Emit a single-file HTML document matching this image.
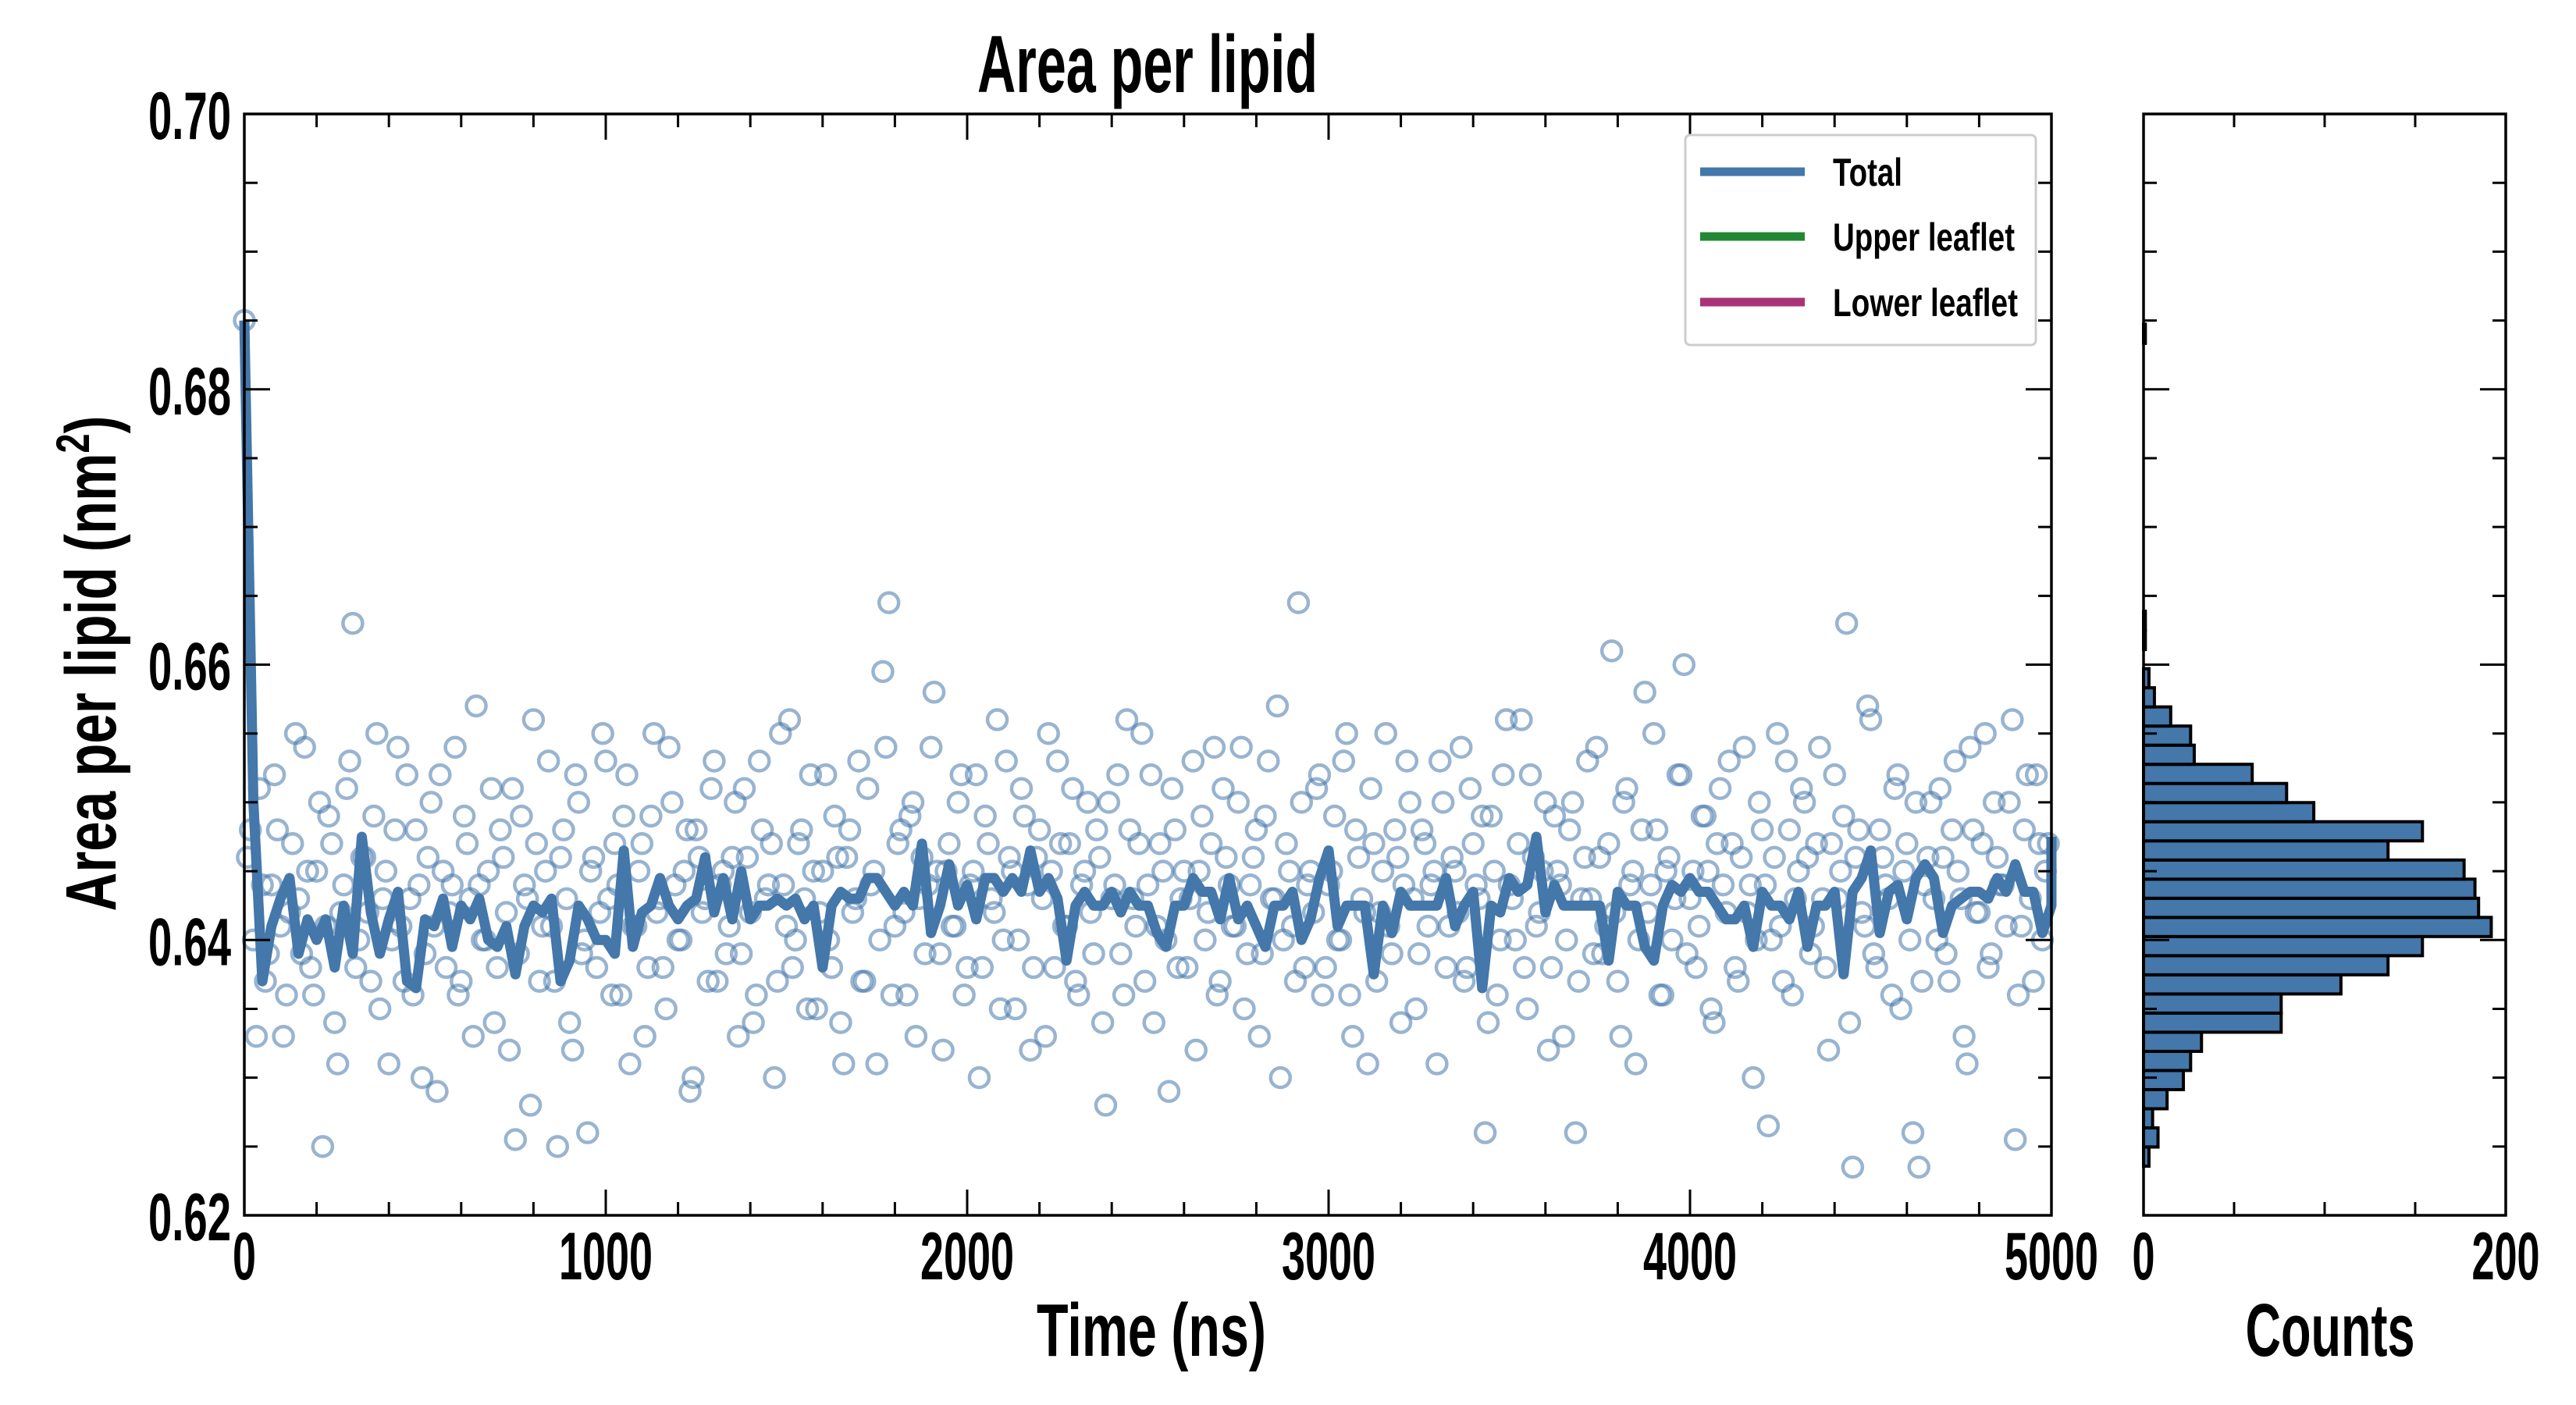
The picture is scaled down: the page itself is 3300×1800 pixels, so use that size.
<!DOCTYPE html>
<html><head><meta charset="utf-8"><style>
html,body{margin:0;padding:0;background:#fff;}
svg{display:block;}
text{font-family:"Liberation Sans Narrow","Liberation Sans",sans-serif;font-weight:bold;fill:#000;}
</style></head>
<body>
<svg id="chart" width="3300" height="1800" viewBox="0 0 3300 1800" xmlns="http://www.w3.org/2000/svg">
<rect x="0" y="0" width="3300" height="1800" fill="#fff"/>
<g id="main-plot"></g>
<g id="hist-plot"></g>
<text x="1470" y="118" font-size="104" text-anchor="middle" textLength="436" lengthAdjust="spacingAndGlyphs">Area per lipid</text>
<text x="1475" y="1737" font-size="96" text-anchor="middle" textLength="294" lengthAdjust="spacingAndGlyphs">Time (ns)</text>
<text x="2985" y="1737" font-size="96" text-anchor="middle" textLength="217" lengthAdjust="spacingAndGlyphs">Counts</text>
<text transform="translate(148,850) rotate(-90)" x="0" y="0" font-size="92" text-anchor="middle" textLength="635" lengthAdjust="spacingAndGlyphs">Area per lipid (nm<tspan font-size="60" dy="-34">2</tspan><tspan dy="34">)</tspan></text>
<g id="legend">
<rect x="2159" y="173" width="449" height="269" rx="6" fill="#fff" stroke="#ccc" stroke-width="3"/>
<g><line x1="2178" y1="220" x2="2312" y2="220" stroke="#4477aa" stroke-width="11"/><text x="2348" y="238" font-size="50" textLength="89" lengthAdjust="spacingAndGlyphs">Total</text></g>
<g><line x1="2178" y1="303" x2="2312" y2="303" stroke="#228833" stroke-width="11"/><text x="2348" y="321" font-size="50" textLength="233" lengthAdjust="spacingAndGlyphs">Upper leaflet</text></g>
<g><line x1="2178" y1="387" x2="2312" y2="387" stroke="#aa3377" stroke-width="11"/><text x="2348" y="405" font-size="50" textLength="237" lengthAdjust="spacingAndGlyphs">Lower leaflet</text></g>
</g>
</svg>
<script>
const xTickLabels = ["0","1000","2000","3000","4000","5000"];
const xTickValues = [0,1000,2000,3000,4000,5000];
const yTickLabels = ["0.62","0.64","0.66","0.68","0.70"];
const yTickValues = [0.62,0.64,0.66,0.68,0.70];
const histTickLabels = ["0","200"];
const histTickValues = [0,200];
const scatterDt = 5000/300;
const scatterValues = [
0.685,0.648,0.633,0.644,0.639,0.652,0.641,0.636,0.647,0.643,0.654,0.638,0.645,0.625,0.649,0.634,0.642,0.651,0.663,0.640,
0.646,0.637,0.655,0.643,0.631,0.648,0.641,0.652,0.636,0.644,0.639,0.650,0.629,0.645,0.642,0.654,0.637,0.647,0.633,0.644,
0.640,0.651,0.638,0.646,0.632,0.6255,0.649,0.643,0.656,0.637,0.645,0.641,0.625,0.648,0.634,0.652,0.639,0.626,0.646,0.642,
0.653,0.636,0.644,0.649,0.631,0.641,0.647,0.638,0.655,0.643,0.635,0.650,0.640,0.645,0.629,0.648,0.642,0.637,0.653,0.644,
0.639,0.646,0.633,0.651,0.642,0.636,0.648,0.644,0.630,0.655,0.641,0.638,0.647,0.643,0.652,0.635,0.645,0.640,0.649,0.634,
0.646,0.642,0.653,0.637,0.644,0.631,0.6595,0.6645,0.641,0.648,0.636,0.650,0.643,0.639,0.654,0.645,0.632,0.647,0.641,0.652,
0.638,0.645,0.630,0.649,0.643,0.656,0.640,0.646,0.635,0.651,0.644,0.638,0.648,0.633,0.645,0.653,0.641,0.647,0.637,0.644,
0.650,0.639,0.646,0.628,0.643,0.652,0.636,0.648,0.641,0.655,0.644,0.634,0.647,0.640,0.651,0.638,0.645,0.643,0.632,0.649,
0.642,0.654,0.637,0.646,0.641,0.650,0.635,0.644,0.648,0.639,0.653,0.643,0.630,0.647,0.641,0.6645,0.638,0.645,0.651,0.636,
0.644,0.649,0.640,0.655,0.633,0.646,0.642,0.651,0.637,0.645,0.641,0.648,0.634,0.653,0.643,0.639,0.647,0.644,0.631,0.650,
0.641,0.645,0.654,0.638,0.647,0.643,0.626,0.649,0.636,0.652,0.644,0.640,0.656,0.635,0.646,0.642,0.650,0.638,0.645,0.633,
0.648,0.626,0.643,0.653,0.639,0.646,0.641,0.661,0.637,0.650,0.644,0.631,0.648,0.642,0.655,0.636,0.645,0.640,0.652,0.660,
0.643,0.638,0.649,0.645,0.634,0.651,0.642,0.647,0.637,0.654,0.644,0.640,0.648,0.6265,0.646,0.641,0.653,0.636,0.645,0.650,
0.639,0.647,0.643,0.632,0.652,0.645,0.663,0.6235,0.648,0.641,0.656,0.638,0.646,0.643,0.651,0.635,0.647,0.626,0.6235,0.644,
0.650,0.640,0.646,0.637,0.653,0.643,0.631,0.648,0.642,0.655,0.639,0.646,0.644,0.650,0.6255,0.641,0.652,0.637,0.647,0.645
];
const scatterValuesB = [
0.646,0.640,0.651,0.637,0.644,0.648,0.633,0.642,0.655,0.639,0.645,0.636,0.650,0.641,0.647,0.631,0.644,0.653,0.638,0.646,
0.642,0.649,0.635,0.645,0.640,0.654,0.637,0.643,0.648,0.630,0.646,0.641,0.652,0.638,0.644,0.636,0.649,0.643,0.657,0.640,
0.645,0.634,0.648,0.642,0.651,0.639,0.644,0.628,0.647,0.641,0.653,0.637,0.646,0.643,0.632,0.650,0.640,0.645,0.638,0.655,
0.643,0.647,0.636,0.652,0.641,0.645,0.633,0.649,0.642,0.638,0.654,0.644,0.640,0.648,0.630,0.646,0.643,0.651,0.637,0.645,
0.641,0.650,0.639,0.646,0.634,0.653,0.643,0.647,0.637,0.644,0.656,0.640,0.648,0.635,0.645,0.642,0.652,0.638,0.646,0.631,
0.648,0.643,0.637,0.651,0.645,0.640,0.654,0.636,0.647,0.642,0.649,0.633,0.646,0.644,0.658,0.639,0.645,0.641,0.650,0.636,
0.644,0.652,0.638,0.647,0.642,0.635,0.653,0.645,0.640,0.649,0.632,0.646,0.643,0.655,0.638,0.647,0.641,0.651,0.636,0.645,
0.642,0.648,0.634,0.650,0.644,0.639,0.656,0.643,0.647,0.637,0.652,0.641,0.645,0.629,0.648,0.643,0.638,0.653,0.645,0.640,
0.647,0.636,0.651,0.644,0.641,0.654,0.639,0.646,0.633,0.649,0.643,0.657,0.640,0.645,0.637,0.650,0.644,0.642,0.652,0.638,
0.645,0.640,0.653,0.636,0.648,0.643,0.631,0.647,0.642,0.655,0.639,0.646,0.644,0.650,0.635,0.648,0.641,0.645,0.653,0.638,
0.646,0.642,0.637,0.651,0.644,0.649,0.634,0.645,0.640,0.656,0.643,0.647,0.638,0.652,0.641,0.645,0.632,0.649,0.644,0.640,
0.650,0.637,0.646,0.643,0.654,0.639,0.647,0.642,0.633,0.651,0.645,0.640,0.658,0.644,0.648,0.636,0.646,0.643,0.652,0.639,
0.645,0.641,0.649,0.635,0.647,0.644,0.653,0.638,0.646,0.642,0.630,0.650,0.644,0.640,0.655,0.637,0.648,0.643,0.651,0.646,
0.641,0.654,0.638,0.647,0.643,0.649,0.634,0.646,0.642,0.657,0.639,0.648,0.644,0.636,0.652,0.645,0.640,0.650,0.637,0.646,
0.643,0.651,0.639,0.648,0.645,0.633,0.654,0.642,0.647,0.638,0.650,0.644,0.641,0.656,0.636,0.648,0.643,0.652,0.640,0.647
];
const lineDt = 25;
const lineValues = [
0.685,0.650,0.637,0.641,0.643,0.6445,0.639,0.6415,0.640,0.6415,0.638,0.6425,0.639,0.6475,0.642,0.639,0.6415,0.6435,0.637,0.6365,
0.6415,0.641,0.643,0.6395,0.6425,0.6415,0.643,0.640,0.6395,0.641,0.6375,0.641,0.6425,0.642,0.643,0.637,0.6385,0.6425,0.6415,0.640,
0.640,0.639,0.6465,0.6395,0.642,0.6425,0.6445,0.6425,0.6415,0.6425,0.643,0.646,0.642,0.6445,0.6415,0.645,0.6415,0.6425,0.6425,0.643,
0.6425,0.643,0.6415,0.6425,0.638,0.6425,0.6435,0.643,0.643,0.6445,0.6445,0.6435,0.6425,0.6435,0.6425,0.647,0.6405,0.6425,0.6455,0.6425,
0.644,0.6415,0.6445,0.6445,0.6435,0.6445,0.6435,0.6465,0.6435,0.6445,0.643,0.6385,0.6425,0.6435,0.6425,0.6425,0.6435,0.642,0.6435,0.6425,
0.6425,0.6405,0.6395,0.6425,0.6425,0.6445,0.6435,0.6435,0.6415,0.6445,0.6415,0.6425,0.641,0.6395,0.6425,0.6425,0.6435,0.640,0.6415,0.6445,
0.6465,0.641,0.6425,0.6425,0.6425,0.6375,0.6425,0.6405,0.6435,0.6425,0.6425,0.6425,0.6425,0.6445,0.641,0.6425,0.6435,0.6365,0.6425,0.642,
0.6445,0.6435,0.644,0.6475,0.642,0.644,0.6425,0.6425,0.6425,0.6425,0.6425,0.6385,0.6435,0.6425,0.6425,0.6395,0.6385,0.6425,0.644,0.6435,
0.6445,0.6435,0.6435,0.6425,0.6415,0.6415,0.6425,0.6395,0.6435,0.6425,0.6425,0.6415,0.6435,0.6395,0.6425,0.6425,0.6435,0.6375,0.6435,0.6445,
0.6465,0.6405,0.6435,0.644,0.6415,0.6445,0.6455,0.6445,0.6405,0.6425,0.643,0.6435,0.6435,0.643,0.6445,0.6435,0.6455,0.6435,0.6435,0.6405,
0.6425,0.6425,0.6455,0.6475
];
const histBinStart = 0.62357;
const histBinWidth = 0.00139;
const histCounts = [3,8,5,13,22,26,32,76,76,109,135,154,192,185,183,177,135,154,94,79,60,28,26,15,6,3,0,1,1,0,0,0,0,0,0,0,0,0,0,0,0,0,0,1];

const NS='http://www.w3.org/2000/svg';
const M={l:313,r:2628,t:146,b:1557};
const H={l:2746,r:3210,t:146,b:1557};
const yMin=0.62,yMax=0.70;
function xScale(v){return M.l+(v-0)/5000*(M.r-M.l);}
function yScale(v){return M.b-(v-yMin)/(yMax-yMin)*(M.b-M.t);}
function hScale(c){return H.l+c/200*(H.r-H.l);}
function mk(tag,attrs,parent){const e=document.createElementNS(NS,tag);for(const k in attrs)e.setAttribute(k,attrs[k]);parent.appendChild(e);return e;}
const main=document.getElementById('main-plot');
const hist=document.getElementById('hist-plot');

const sg=mk('g',{},main);


function addPoint(t,v){
  const c=mk('circle',{cx:xScale(t),cy:yScale(v),r:12.5,fill:'none',stroke:'rgba(68,119,170,0.55)','stroke-width':4.5},sg);
  
  
}
scatterValues.forEach((v,i)=>addPoint(i*scatterDt,v));
scatterValuesB.forEach((v,i)=>addPoint((i+0.5)*scatterDt,v));

let d='';
lineValues.forEach((v,i)=>{const t=Math.min(i*lineDt,5000);d+=(i?'L':'M')+xScale(t).toFixed(1)+' '+yScale(v).toFixed(1);});
const ln=mk('path',{d:d,fill:'none',stroke:'#4477aa','stroke-width':13,'stroke-linejoin':'round'},main);



const bg=mk('g',{},hist);


histCounts.forEach((c,i)=>{
  if(c<=0)return;
  const lo=histBinStart+i*histBinWidth, hi=lo+histBinWidth;
  const y1=yScale(hi), y2=yScale(lo);
  const r=mk('rect',{x:H.l,y:y1,width:hScale(c)-H.l,height:y2-y1,fill:'#4477aa',stroke:'#000','stroke-width':4},bg);
  
  
});

function frame(box,parent,name){
  const f=mk('rect',{x:box.l,y:box.t,width:box.r-box.l,height:box.b-box.t,fill:'none',stroke:'#000','stroke-width':3.5},parent);
  
  
}
function yTicks(box,parent){
  for(let k=0;k<=16;k++){
    const v=yMin+k*0.005;const y=yScale(v);const major=k%4===0;const L=major?33:17;
    const a=mk('line',{x1:box.l,y1:y,x2:box.l+L,y2:y,stroke:'#000','stroke-width':3},parent);
    
    
    const b=mk('line',{x1:box.r,y1:y,x2:box.r-L,y2:y,stroke:'#000','stroke-width':3},parent);
    
    
  }
}
frame(M,main,'main-axes-frame');
frame(H,hist,'hist-axes-frame');
yTicks(M,main);yTicks(H,hist);
for(let t=0;t<=5000;t+=200){
  const x=xScale(t);const major=t%1000===0;const L=major?33:17;
  const a=mk('line',{x1:x,y1:M.b,x2:x,y2:M.b-L,stroke:'#000','stroke-width':3},main);
  
  
  const b=mk('line',{x1:x,y1:M.t,x2:x,y2:M.t+L,stroke:'#000','stroke-width':3},main);
  
  
}
for(let c=0;c<=200;c+=50){
  const x=hScale(c);const major=c%200===0;const L=major?33:17;
  const a=mk('line',{x1:x,y1:H.b,x2:x,y2:H.b-L,stroke:'#000','stroke-width':3},hist);
  
  
  const b=mk('line',{x1:x,y1:H.t,x2:x,y2:H.t+L,stroke:'#000','stroke-width':3},hist);
  
  
}
xTickLabels.forEach((s,i)=>{
  const t=mk('text',{x:xScale(xTickValues[i]),y:1639,'font-size':86,'text-anchor':'middle',textLength:s.length*30,lengthAdjust:'spacingAndGlyphs'},main);
  t.textContent=s;
  
  
});
yTickLabels.forEach((s,i)=>{
  const t=mk('text',{x:296,y:yScale(yTickValues[i])+32,'font-size':86,'text-anchor':'end',textLength:106,lengthAdjust:'spacingAndGlyphs'},main);
  t.textContent=s;
  
  
});
histTickLabels.forEach((s,i)=>{
  const t=mk('text',{x:hScale(histTickValues[i]),y:1639,'font-size':86,'text-anchor':'middle',textLength:s.length*29,lengthAdjust:'spacingAndGlyphs'},hist);
  t.textContent=s;
  
  
});
</script>
</body></html>
